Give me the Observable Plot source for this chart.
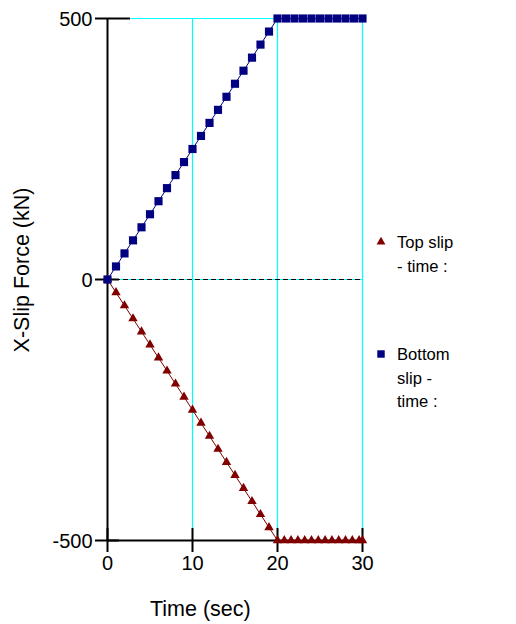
<!DOCTYPE html>
<html>
<head>
<meta charset="utf-8">
<script src="https://cdn.jsdelivr.net/npm/d3@7"></script>
<script src="https://cdn.jsdelivr.net/npm/@observablehq/plot@0.6"></script>
<style>
  body { margin: 0; background: #fff; font-family: "Liberation Sans", Arial, sans-serif; }
  #wrap { position: relative; width: 516px; height: 624px; }
  .lbl { position: absolute; font-size: 21.5px; line-height: 24px; color: #000; white-space: nowrap; }
  .leg { position: absolute; font-size: 16.6px; line-height: 23.5px; color: #000; }
</style>
</head>
<body>
<div id="wrap"></div>
<script>
// Data
const bottomTime = [0,1,2,3,4,5,6,7,8,9,10,11,12,13,14,15,16,17,18,19,20,21,22,23,24,25,26,27,28,29,30];
const bottomForce = [0,25,50,75,100,125,150,175,200,225,250,275,300,325,350,375,400,425,450,475,500,500,500,500,500,500,500,500,500,500,500];
const topTime = [0,1,2,3,4,5,6,7,8,9,10,11,12,13,14,15,16,17,18,19,20,20.8,21.6,22.4,23.2,24,24.8,25.6,26.4,27.2,28,28.8,29.6,30];
const topForce = [0,-25,-50,-75,-100,-125,-150,-175,-200,-225,-250,-275,-300,-325,-350,-375,-400,-425,-450,-475,-500,-500,-500,-500,-500,-500,-500,-500,-500,-500,-500,-500,-500,-500];
const xTicks = [0, 10, 20, 30];
const yTicks = [-500, 0, 500];
const gridX = [10, 20, 30];
const seriesNames = ["Top slip - time :", "Bottom slip - time :"];

const bottomData = bottomTime.map((t, i) => ({t, f: bottomForce[i]}));
const topData = topTime.map((t, i) => ({t, f: topForce[i]}));

const navy = "#000080", maroon = "#800000", cyan = "#00ffff";

const chart = Plot.plot({
  width: 516,
  height: 624,
  marginLeft: 107,
  marginRight: 154,
  marginTop: 18,
  marginBottom: 84,
  style: {fontFamily: "Liberation Sans, Arial, sans-serif", fontSize: "20px", background: "white", overflow: "visible"},
  x: {domain: [0, 30]},
  y: {domain: [-500, 500]},
  marks: [
    // cyan grid
    Plot.gridX(gridX, {stroke: cyan, strokeOpacity: 1, strokeWidth: 1.2}),
    Plot.ruleY([500], {y: d => d, x1: 0, x2: 30, stroke: cyan, strokeWidth: 1.2}),
    Plot.ruleY([0], {y: d => d, x1: 0, x2: 30, stroke: cyan, strokeWidth: 1}),
    Plot.ruleY([0], {y: d => d, x1: 0, x2: 30, stroke: "black", strokeWidth: 1, strokeDasharray: "5,3"}),
    // axes lines
    Plot.ruleX([0], {x: d => d, y1: -500, y2: 500, stroke: "black", strokeWidth: 2}),
    Plot.ruleY([-500], {y: d => d, x1: 0, x2: 30, stroke: "black", strokeWidth: 2}),
    // tick marks crossing axes
    Plot.ruleX(xTicks, {x: d => d, y1: -500, y2: -500, insetTop: -12, insetBottom: -12, stroke: "black", strokeWidth: 2}),
    Plot.ruleY(yTicks.filter(d => d !== 500), {y: d => d, x1: 0, x2: 0, insetLeft: -12, insetRight: -12, stroke: "black", strokeWidth: 2}),
    Plot.ruleY(yTicks.filter(d => d === 500), {y: d => d, x1: 0, x2: 0, insetLeft: -12, insetRight: -23, stroke: "black", strokeWidth: 2}),
    Plot.axisX(xTicks, {tickSize: 0, tickPadding: 15, fontSize: 20, label: null, anchor: "bottom", tickFormat: d => String(d)}),
    Plot.axisY(yTicks, {tickSize: 0, tickPadding: 15, fontSize: 20, label: null, anchor: "left", tickFormat: d => String(d), dy: 1}),
    // series
    Plot.line(topData, {x: "t", y: "f", stroke: maroon, strokeWidth: 1}),
    Plot.dot(topData, {x: "t", y: "f", symbol: "triangle", r: 3.5, fill: maroon, stroke: "none"}),
    Plot.line(bottomData, {x: "t", y: "f", stroke: navy, strokeWidth: 1}),
    Plot.dot(bottomData, {x: "t", y: "f", symbol: "square", r: 4.6, fill: navy, stroke: "none"})
  ]
});

const wrap = document.getElementById("wrap");
wrap.appendChild(chart);

function addLabel(html, css, cls) {
  const d = document.createElement("div");
  d.className = cls || "lbl";
  d.innerHTML = html;
  Object.assign(d.style, css);
  wrap.appendChild(d);
  return d;
}
// axis titles
addLabel("Time (sec)", {left: "150px", top: "597px"});
addLabel("X-Slip Force (kN)", {left: "22px", top: "270px", transform: "translate(-50%, -50%) rotate(-90deg)", transformOrigin: "center"});

// legend
const svgNS = "http://www.w3.org/2000/svg";
function marker(kind, cx, cy, color) {
  const s = document.createElementNS(svgNS, "svg");
  s.setAttribute("width", 12); s.setAttribute("height", 12);
  s.style.position = "absolute";
  s.style.left = (cx - 6) + "px"; s.style.top = (cy - 6) + "px";
  const sym = kind === "triangle" ? d3.symbolTriangle : d3.symbolSquare;
  const r = kind === "triangle" ? 3.3 : 4.2;
  const p = document.createElementNS(svgNS, "path");
  p.setAttribute("d", d3.symbol(sym, r * r * Math.PI)());
  p.setAttribute("transform", "translate(6,6)");
  p.setAttribute("fill", color);
  s.appendChild(p);
  wrap.appendChild(s);
}
marker("triangle", 381, 242, maroon);
addLabel("Top slip<br>- time :", {left: "397px", top: "231px"}, "leg");
marker("square", 381, 354, navy);
addLabel("Bottom<br>slip -<br>time :", {left: "397px", top: "343px"}, "leg");
</script>
</body>
</html>
